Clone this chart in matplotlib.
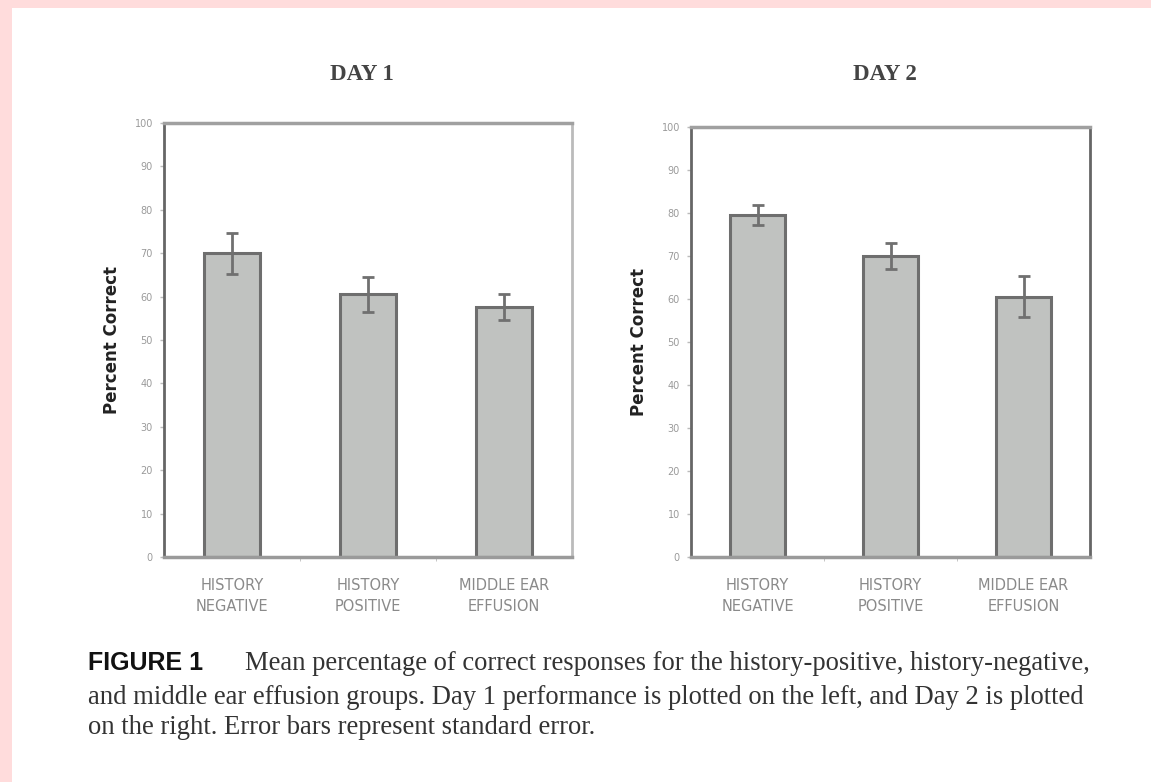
import matplotlib
matplotlib.use("Agg")
import matplotlib.pyplot as plt
import numpy as np

W, H = 1151, 782

groups = ["HISTORY\nNEGATIVE", "HISTORY\nPOSITIVE", "MIDDLE EAR\nEFFUSION"]
day1_mean = [70.0, 60.5, 57.5]
day1_se = [4.7, 4.0, 3.0]
day2_mean = [79.5, 70.0, 60.5]
day2_se = [2.4, 3.0, 4.8]
titles = ["DAY 1", "DAY 2"]
yticks = list(range(0, 101, 10))

caption_head = "FIGURE 1"
caption_lines = [
    "Mean percentage of correct responses for the history-positive, history-negative,",
    "and middle ear effusion groups. Day 1 performance is plotted on the left, and Day 2 is plotted",
    "on the right. Error bars represent standard error.",
]

PINK = "#ffdcdc"
BAR = "#c0c2c0"
BAR_EDGE = "#6e6e6e"
TICK_GREY = "#9a9a9a"


def px_rect(x0, y0, x1, y1):
    # pixel box (top-left origin) -> figure fraction rect
    return [x0 / W, 1 - y1 / H, (x1 - x0) / W, (y1 - y0) / H]


fig = plt.figure(figsize=(W / 100, H / 100), dpi=100)
fig.patch.set_facecolor(PINK)
fig.patches.append(plt.Rectangle((12 / W, 0), 1, 1 - 8 / H, transform=fig.transFigure,
                                 facecolor="white", edgecolor="none", zorder=-5))

boxes = [(164, 123, 572, 557), (691, 127, 1090, 557)]
data = [(day1_mean, day1_se), (day2_mean, day2_se)]

for i, (box, (means, ses), title) in enumerate(zip(boxes, data, titles)):
    ax = fig.add_axes(px_rect(*box))
    ax.patch.set_alpha(0)
    x = np.arange(len(groups))
    ax.bar(x, means, width=0.41, color=BAR, edgecolor=BAR_EDGE, linewidth=2.2, zorder=2)
    ax.errorbar(x, means, yerr=ses, fmt="none", ecolor="#707070", elinewidth=2,
                capsize=4, capthick=2, zorder=3)
    ax.set_xlim(-0.5, 2.5)
    ax.set_ylim(0, 100)
    ax.set_yticks(yticks)
    ax.set_yticklabels([str(v) for v in yticks], fontsize=7, color=TICK_GREY)
    ax.tick_params(axis="y", length=3, width=1, color="#bbbbbb", pad=5)
    ax.set_xticks(x)
    ax.set_xticklabels(groups, fontsize=10.5, color="#8a8a8a", linespacing=1.5)
    ax.tick_params(axis="x", length=0, pad=15)
    ax.set_xticks([0.5, 1.5], minor=True)
    ax.tick_params(axis="x", which="minor", length=3, color="#bbbbbb")
    ax.spines["left"].set_color("#666666")
    ax.spines["left"].set_linewidth(2)
    ax.spines["bottom"].set_color("#9a9a9a")
    ax.spines["bottom"].set_linewidth(2.5)
    ax.spines["top"].set_color("#a0a0a0")
    ax.spines["top"].set_linewidth(2.5)
    ax.spines["right"].set_color("#bbbbbb" if i == 0 else "#666666")
    ax.spines["right"].set_linewidth(2)
    ax.set_ylabel("Percent Correct", fontsize=12, fontweight="bold", color="#222222",
                  labelpad=10)
    cx = (box[0] + box[2]) / 2 - 6
    fig.text(cx / W, 1 - 75 / H, title, ha="center", va="center", fontsize=16.5,
             fontweight="bold", family="Liberation Serif", color="#444444")

fig.text(88 / W, 1 - 663 / H, caption_head, ha="left", va="center", fontsize=18,
         fontweight="bold", family="Liberation Sans", color="#111111")
line_y = [663, 697, 728]
line_x = [245, 88, 88]
for txt, lx, ly in zip(caption_lines, line_x, line_y):
    fig.text(lx / W, 1 - ly / H, txt, ha="left", va="center", fontsize=19.15,
             family="Liberation Serif", color="#333333")

fig.savefig("out.png", dpi=100, facecolor=fig.get_facecolor())
